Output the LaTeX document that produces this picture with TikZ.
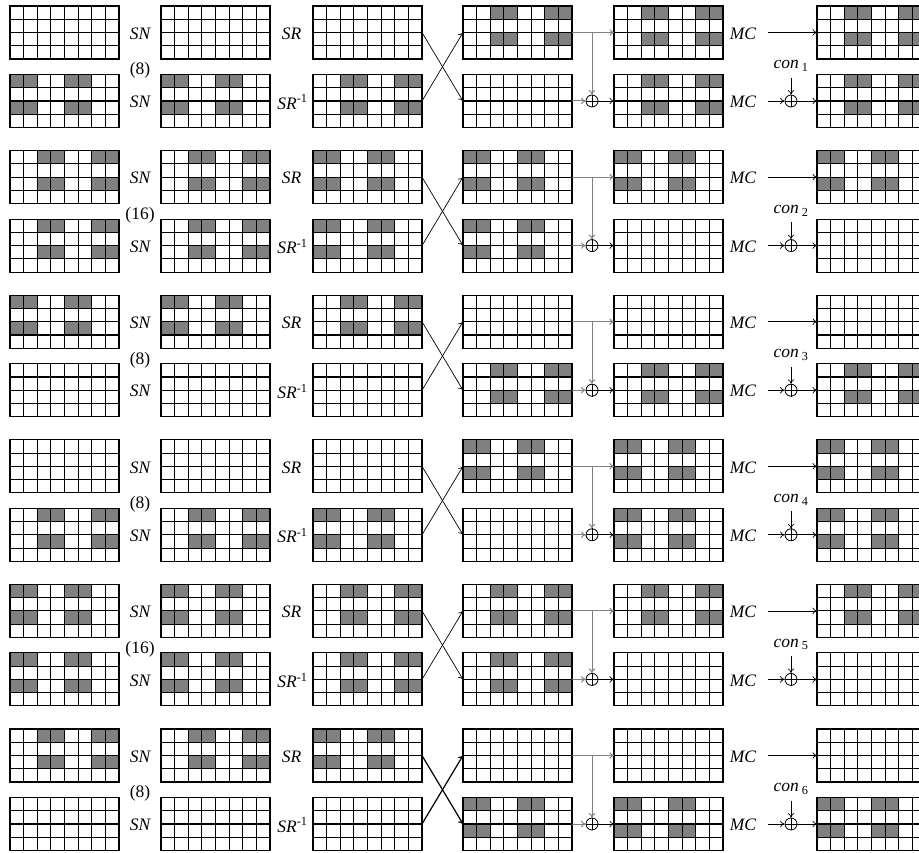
\documentclass[tikz,border=0pt]{standalone}
\usepackage{fontspec}
\setmainfont{Liberation Serif}
\usetikzlibrary{arrows.meta,calc}
\tikzset{
  gridbox/.style={draw=none,minimum width=109pt,minimum height=53pt,inner sep=0pt,outer sep=0pt},
  gridline/.style={line width=1.1pt,black,line cap=rect},
  cellfill/.style={fill=black!50},
  lab/.style={font=\fontsize{17.5}{19}\selectfont\itshape,inner sep=1pt},
  num/.style={font=\fontsize{17.5}{19}\selectfont,inner sep=1pt},
  tip/.style={-{To[length=4.5pt,width=6.5pt]}},
  conn/.style={line width=0.7pt,tip},
  branch/.style={line width=1pt,black!50,tip},
  crossline/.style={line width=0.7pt,tip},
  oplus/.style={circle,draw,line width=0.8pt,minimum size=12pt,inner sep=0pt},
}
\newcommand\grd[4]{%
  \node[gridbox] (#1) at (#2+54.5,#3+26.5) {};
  \if#4A\foreach \cc in {0,1,4,5}{\foreach \rr in {0,2}{\fill[cellfill] (#2+\cc*13.625,#3+\rr*13.25) rectangle ++(13.625,13.25);}}\fi
  \if#4B\foreach \cc in {2,3,6,7}{\foreach \rr in {0,2}{\fill[cellfill] (#2+\cc*13.625,#3+\rr*13.25) rectangle ++(13.625,13.25);}}\fi
  \foreach \ii in {0,...,8}{\draw[gridline] (#2+\ii*13.625,#3) -- ++(0,53);}
  \foreach \jj in {0,...,4}{\draw[gridline] (#2,#3+\jj*13.25) -- ++(109,0);}
}
\newcommand\pairgrids[3]{%
  \foreach \cl/\xl/\tp/\bp in {#3}{\grd{g#1t\cl}{\xl}{#2}{\tp}\grd{g#1b\cl}{\xl}{#2+68.5}{\bp}}}
\newcommand\pairconn[3]{%
  \node[lab] (snt#1) at ($(g#1t1.east)!0.5!(g#1t2.west)+(0,1)$) {SN};
  \node[lab] (snb#1) at ($(g#1b1.east)!0.5!(g#1b2.west)+(0,1)$) {SN};
  \node[num] (cnt#1) at ($(snt#1)!0.5!(snb#1)+(0,3)$) {#2};
  \node[lab] (srt#1) at ($(g#1t2.east)!0.5!(g#1t3.west)+(0,1)$) {SR};
  \node[lab] (srb#1) at ($(g#1b2.east)!0.5!(g#1b3.west)+(1,1)$) {SR\textsuperscript{\upshape -1}};
  \draw[crossline,#3] (g#1t3.east) -- (g#1b4.west);
  \draw[crossline,#3] (g#1b3.east) -- (g#1t4.west);
  \coordinate (br#1) at ($(g#1t4.east)+(20,0)$);
  \node[oplus] (xa#1) at (br#1 |- g#1b4) {};
  \draw[line width=0.8pt] (xa#1.north) -- (xa#1.south) (xa#1.west) -- (xa#1.east);
  \draw[branch] (g#1t4.east) -- (g#1t5.west);
  \draw[branch] (br#1) -- (xa#1.north);
  \draw[branch] (g#1b4.east) -- (xa#1.west);
  \draw[conn] (xa#1.east) -- (g#1b5.west);
  \node[lab] (mct#1) at ($(g#1t5.east)+(20,1)$) {MC};
  \node[lab] (mcb#1) at ($(g#1b5.east)+(20,1)$) {MC};
  \draw[conn] ([xshift=11pt,yshift=1pt]mct#1.east) -- (g#1t6.west);
  \node[oplus] (xb#1) at ($(g#1b5.east)+(68,0)$) {};
  \draw[line width=0.8pt] (xb#1.north) -- (xb#1.south) (xb#1.west) -- (xb#1.east);
  \node[lab] (con#1) at ($(xb#1)+(0,-35)$) {con\,\textsubscript{\upshape #1}};
  \draw[conn,shorten <=5pt] (con#1.south) -- (xb#1.north);
  \draw[conn] ([xshift=11pt,yshift=1pt]mcb#1.east) -- (xb#1.west);
  \draw[conn] (xb#1.east) -- (g#1b6.west);
}
\begin{document}
\begin{tikzpicture}[x=1pt,y=-1pt]
\useasboundingbox (0,0) rectangle (919,853);
\clip (0,0) rectangle (919,853);
\fill[white] (0,0) rectangle (919,853);
\pairgrids{1}{6}{1/10/N/A,2/161/N/A,3/313/N/B,4/463/B/N,5/614/B/B,6/817/B/B}
\pairgrids{2}{150.6}{1/10/B/B,2/161/B/B,3/313/A/A,4/463/A/A,5/614/A/N,6/817/A/N}
\pairgrids{3}{295.2}{1/10/A/N,2/161/A/N,3/313/B/N,4/463/N/B,5/614/N/B,6/817/N/B}
\pairgrids{4}{439.8}{1/10/N/B,2/161/N/B,3/313/N/A,4/463/A/N,5/614/A/A,6/817/A/A}
\pairgrids{5}{584.4}{1/10/A/A,2/161/A/A,3/313/B/B,4/463/B/B,5/614/B/N,6/817/B/N}
\pairgrids{6}{729}{1/10/B/N,2/161/B/N,3/313/A/N,4/463/N/A,5/614/N/A,6/817/N/A}
\pairconn{1}{(8)}{}
\pairconn{2}{(16)}{}
\pairconn{3}{(8)}{}
\pairconn{4}{(8)}{}
\pairconn{5}{(16)}{}
\pairconn{6}{(8)}{line width=1.2pt}
\end{tikzpicture}
\end{document}
